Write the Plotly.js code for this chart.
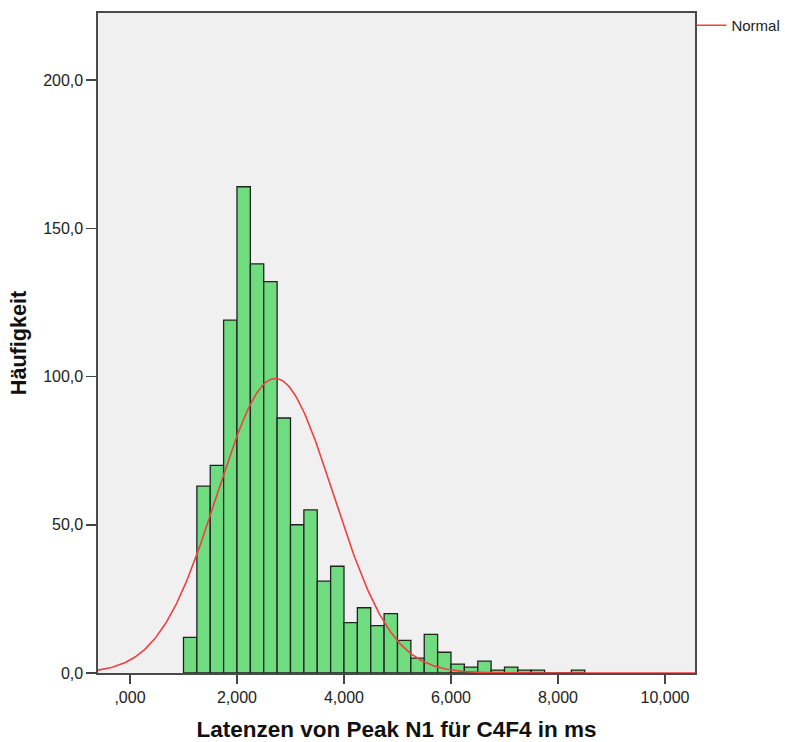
<!DOCTYPE html>
<html>
<head>
<meta charset="utf-8">
<script src="https://cdn.plot.ly/plotly-3.0.1.min.js"></script>
<style>
  html, body { margin: 0; padding: 0; background: #ffffff; }
  #chart { width: 785px; height: 742px; }
</style>
</head>
<body>
<div id="chart"></div>
<script>
// Histogram of N1 peak latencies (C4F4), bin width 0,25 ms
const binLefts = [1.00, 1.25, 1.50, 1.75, 2.00, 2.25, 2.50, 2.75, 3.00, 3.25,
                  3.50, 3.75, 4.00, 4.25, 4.50, 4.75, 5.00, 5.25, 5.50, 5.75,
                  6.00, 6.25, 6.50, 6.75, 7.00, 7.25, 7.50, 7.75, 8.00, 8.25];
const counts   = [12, 63, 70, 119, 164, 138, 132, 86, 50, 55,
                  31, 36, 17, 22, 16, 20, 11, 5, 13, 7,
                  3, 2, 4, 1, 2, 1, 1, 0, 0, 1];
const binWidth = 0.25;

const xTickVals = [0, 2, 4, 6, 8, 10];
const xTickText = [',000', '2,000', '4,000', '6,000', '8,000', '10,000'];
const yTickVals = [0, 50, 100, 150, 200];
const yTickText = ['0,0', '50,0', '100,0', '150,0', '200,0'];

const xRange = [-0.598, 10.561];
const yRange = [0, 222.6];

// Fitted normal curve, scaled to the histogram (N * bin width * density)
const n = counts.reduce((a, b) => a + b, 0);
const mids = binLefts.map(v => v + binWidth / 2);
const mean = mids.reduce((s, m, i) => s + m * counts[i], 0) / n;
const sd = Math.sqrt(mids.reduce((s, m, i) => s + counts[i] * (m - mean) ** 2, 0) / (n - 1));
const curveX = [], curveY = [];
const steps = 400;
for (let i = 0; i <= steps; i++) {
  const x = xRange[0] + (xRange[1] - xRange[0]) * i / steps;
  const z = (x - mean) / sd;
  curveX.push(x);
  curveY.push(n * binWidth * Math.exp(-0.5 * z * z) / (sd * Math.sqrt(2 * Math.PI)));
}

const font = 'Liberation Sans, Arial, sans-serif';

const bars = {
  type: 'bar',
  x: binLefts,
  y: counts,
  offset: 0,
  width: binWidth,
  marker: { color: '#70dc80', line: { color: '#222222', width: 1.3 } },
  showlegend: false,
  hoverinfo: 'skip'
};

const normal = {
  type: 'scatter',
  mode: 'lines',
  x: curveX,
  y: curveY,
  name: 'Normal',
  line: { color: '#f04040', width: 1.6 },
  hoverinfo: 'skip',
  cliponaxis: true
};

const layout = {
  width: 785,
  height: 742,
  margin: { l: 98, r: 90, t: 13, b: 69, autoexpand: false },
  paper_bgcolor: '#ffffff',
  plot_bgcolor: '#f0f0f0',
  bargap: 0,
  font: { family: font, color: '#222222' },
  showlegend: true,
  legend: {
    x: 0.994, y: 1.006, xanchor: 'left', yanchor: 'top',
    font: { family: font, size: 15, color: '#222222' },
    itemwidth: 30,
    bgcolor: 'rgba(0,0,0,0)'
  },
  xaxis: {
    range: xRange,
    tickmode: 'array',
    tickvals: xTickVals,
    ticktext: xTickText,
    ticks: 'outside',
    ticklen: 9,
    tickwidth: 1.5,
    tickcolor: '#444444',
    tickfont: { family: font, size: 16, color: '#222222' },
    showgrid: false,
    zeroline: false,
    showline: true,
    mirror: true,
    linecolor: '#4a4a4a',
    linewidth: 1.6,
    title: {
      text: 'Latenzen von Peak N1 für C4F4 in ms',
      font: { family: font, size: 22.5, color: '#111111', weight: 'bold' },
      standoff: 18
    }
  },
  yaxis: {
    range: yRange,
    tickmode: 'array',
    tickvals: yTickVals,
    ticktext: yTickText,
    ticks: 'outside',
    ticklen: 10,
    tickwidth: 1.5,
    tickcolor: '#444444',
    tickfont: { family: font, size: 16, color: '#222222' },
    showgrid: false,
    zeroline: false,
    showline: true,
    mirror: true,
    linecolor: '#4a4a4a',
    linewidth: 1.6,
    title: {
      text: 'Häufigkeit',
      font: { family: font, size: 21.6, color: '#111111', weight: 'bold' },
      standoff: 10
    }
  }
};

Plotly.newPlot('chart', [bars, normal], layout, { displayModeBar: false, staticPlot: true });
</script>
</body>
</html>
